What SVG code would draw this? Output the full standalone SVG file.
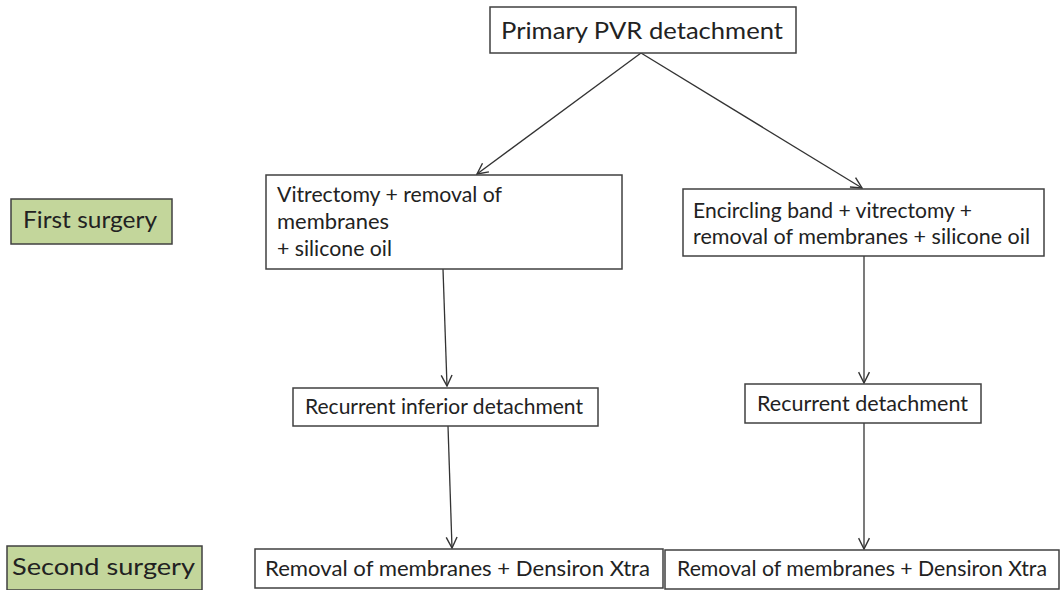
<svg xmlns="http://www.w3.org/2000/svg" width="1060" height="590" viewBox="0 0 1060 590">
<style>
.box{fill:#fff;stroke:#404040;stroke-width:1.5}
.lab{fill:#c3d69b;stroke:#404040;stroke-width:1.5}
.t{font-family:Lato,"Open Sans","Liberation Sans",sans-serif;font-size:22px;fill:#222}
.big{font-size:24px}
.c{fill:none;stroke:#333;stroke-width:1.3}
</style>
<defs>
<marker id="ah" viewBox="0 0 12 12" refX="11" refY="6" markerWidth="13" markerHeight="13" markerUnits="userSpaceOnUse" orient="auto">
<path d="M1,1 L11,6 L1,11" fill="none" stroke="#333" stroke-width="1.3"/>
</marker>
</defs>
<rect width="1060" height="590" fill="#fff"/>
<g id="connectors">
<line class="c" x1="641" y1="53" x2="477" y2="174" marker-end="url(#ah)"/>
<line class="c" x1="641" y1="53" x2="862" y2="188" marker-end="url(#ah)"/>
<line class="c" x1="443" y1="269" x2="447" y2="386" marker-end="url(#ah)"/>
<line class="c" x1="448" y1="426" x2="452" y2="548" marker-end="url(#ah)"/>
<line class="c" x1="864" y1="256" x2="864" y2="383" marker-end="url(#ah)"/>
<line class="c" x1="864" y1="423" x2="864" y2="549" marker-end="url(#ah)"/>
</g>
<g id="primary">
<rect class="box" x="490" y="7" width="306" height="46"/>
<text class="t big" x="501" y="39" textLength="282" lengthAdjust="spacingAndGlyphs">Primary PVR detachment</text>
</g>
<g id="first-surgery">
<rect class="lab" x="11" y="199" width="161" height="45"/>
<text class="t big" x="23" y="228" textLength="134" lengthAdjust="spacingAndGlyphs">First surgery</text>
</g>
<g id="left-first">
<rect class="box" x="266" y="175" width="356" height="94"/>
<text class="t" x="277" y="202" textLength="225" lengthAdjust="spacingAndGlyphs">Vitrectomy + removal of</text>
<text class="t" x="277" y="229" textLength="112" lengthAdjust="spacingAndGlyphs">membranes</text>
<text class="t" x="277" y="256" textLength="115" lengthAdjust="spacingAndGlyphs">+ silicone oil</text>
</g>
<g id="right-first">
<rect class="box" x="683" y="189" width="361" height="67"/>
<text class="t" x="693" y="218" textLength="279" lengthAdjust="spacingAndGlyphs">Encircling band + vitrectomy +</text>
<text class="t" x="693" y="244" textLength="337" lengthAdjust="spacingAndGlyphs">removal of membranes + silicone oil</text>
</g>
<g id="left-recurrent">
<rect class="box" x="293" y="388" width="305" height="38"/>
<text class="t" x="305" y="414" textLength="278" lengthAdjust="spacingAndGlyphs">Recurrent inferior detachment</text>
</g>
<g id="right-recurrent">
<rect class="box" x="745" y="384" width="236" height="39"/>
<text class="t" x="757" y="411" textLength="211" lengthAdjust="spacingAndGlyphs">Recurrent detachment</text>
</g>
<g id="second-surgery">
<rect class="lab" x="7" y="546" width="195" height="44"/>
<text class="t big" x="12" y="575" textLength="183" lengthAdjust="spacingAndGlyphs">Second surgery</text>
</g>
<g id="left-second">
<rect class="box" x="255" y="549" width="408" height="39"/>
<text class="t" x="265" y="576" textLength="385" lengthAdjust="spacingAndGlyphs">Removal of membranes + Densiron Xtra</text>
</g>
<g id="right-second">
<rect class="box" x="665" y="550" width="394" height="39"/>
<text class="t" x="677" y="576" textLength="370" lengthAdjust="spacingAndGlyphs">Removal of membranes + Densiron Xtra</text>
</g>
</svg>
